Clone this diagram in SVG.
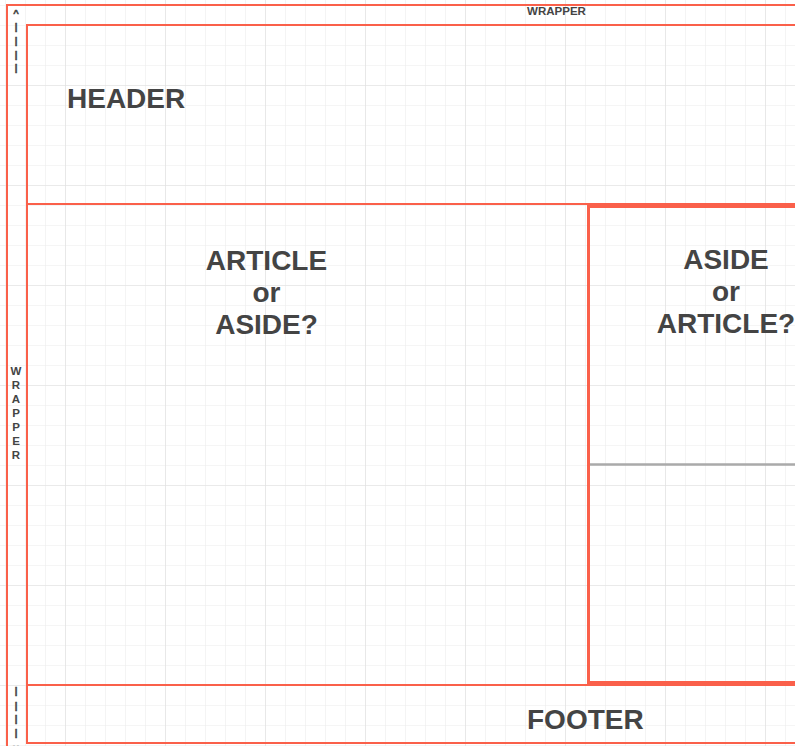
<svg xmlns="http://www.w3.org/2000/svg" width="795" height="746" viewBox="0 0 795 746">
  <style>
    .box { fill: none; stroke: #fa604a; stroke-width: 2; }
    .thick { fill: none; stroke: #fa604a; stroke-width: 3; }
    .big { font-family: "Liberation Sans", Arial, sans-serif; font-weight: bold; font-size: 28px; fill: #444; }
    .small { font-family: "Liberation Sans", Arial, sans-serif; font-weight: bold; font-size: 11.5px; fill: #444; text-anchor: middle; }
    .bar { font-family: "Liberation Sans", Arial, sans-serif; font-weight: bold; font-size: 9.5px; fill: #444; stroke: #444; stroke-width: 0.5; text-anchor: middle; }
  </style>
  <defs>
    <pattern id="minor" x="5" y="5" width="20" height="20" patternUnits="userSpaceOnUse">
      <path d="M0 0 H20 M0 0 V20" fill="none" stroke="#ececec" stroke-width="1.2"/>
    </pattern>
    <pattern id="major" x="65" y="85" width="100" height="100" patternUnits="userSpaceOnUse">
      <path d="M0 0 H100 M0 0 V100" fill="none" stroke="#e0e0e0" stroke-width="1.2"/>
    </pattern>
  </defs>
  <rect width="795" height="746" fill="#ffffff"/>
  <rect width="795" height="746" fill="url(#minor)"/>
  <rect width="795" height="746" fill="url(#major)"/>

  <g id="wrapper">
    <rect class="box" x="7" y="5" width="800" height="760"/>
    <text class="small" x="556.5" y="15">WRAPPER</text>
    <text class="bar" x="16" y="16">^</text>
    <text class="bar" x="16" y="30">|</text>
    <text class="bar" x="16" y="44">|</text>
    <text class="bar" x="16" y="57.5">|</text>
    <text class="bar" x="16" y="71">|</text>
    <text class="small" x="16" y="375">W</text>
    <text class="small" x="16" y="389">R</text>
    <text class="small" x="16" y="403">A</text>
    <text class="small" x="16" y="417">P</text>
    <text class="small" x="16" y="431">P</text>
    <text class="small" x="16" y="445">E</text>
    <text class="small" x="16" y="459">R</text>
    <text class="bar" x="16" y="694">|</text>
    <text class="bar" x="16" y="709">|</text>
    <text class="bar" x="16" y="722">|</text>
    <text class="bar" x="16" y="736">|</text>
    <text class="bar" x="16" y="751">v</text>
  </g>

  <g id="header">
    <rect class="box" x="27" y="25" width="800" height="179"/>
    <text class="big" x="67" y="108">HEADER</text>
  </g>

  <g id="article">
    <rect class="box" x="27" y="204" width="561" height="481"/>
    <text class="big" x="266.5" y="270" text-anchor="middle">ARTICLE</text>
    <text class="big" x="266.5" y="302" text-anchor="middle">or</text>
    <text class="big" x="266.5" y="333.5" text-anchor="middle">ASIDE?</text>
  </g>

  <g id="aside">
    <rect class="thick" x="588.5" y="206.5" width="240" height="476"/>
    <text class="big" x="726" y="269" text-anchor="middle">ASIDE</text>
    <text class="big" x="726" y="301" text-anchor="middle">or</text>
    <text class="big" x="726" y="333" text-anchor="middle">ARTICLE?</text>
  </g>

  <g id="connectors">
    <line x1="590" y1="464.5" x2="795" y2="464.5" stroke="#aaaaaa" stroke-width="2.5"/>
  </g>

  <g id="footer">
    <rect class="box" x="27" y="685" width="800" height="58"/>
    <text class="big" x="527" y="729">FOOTER</text>
  </g>
</svg>
